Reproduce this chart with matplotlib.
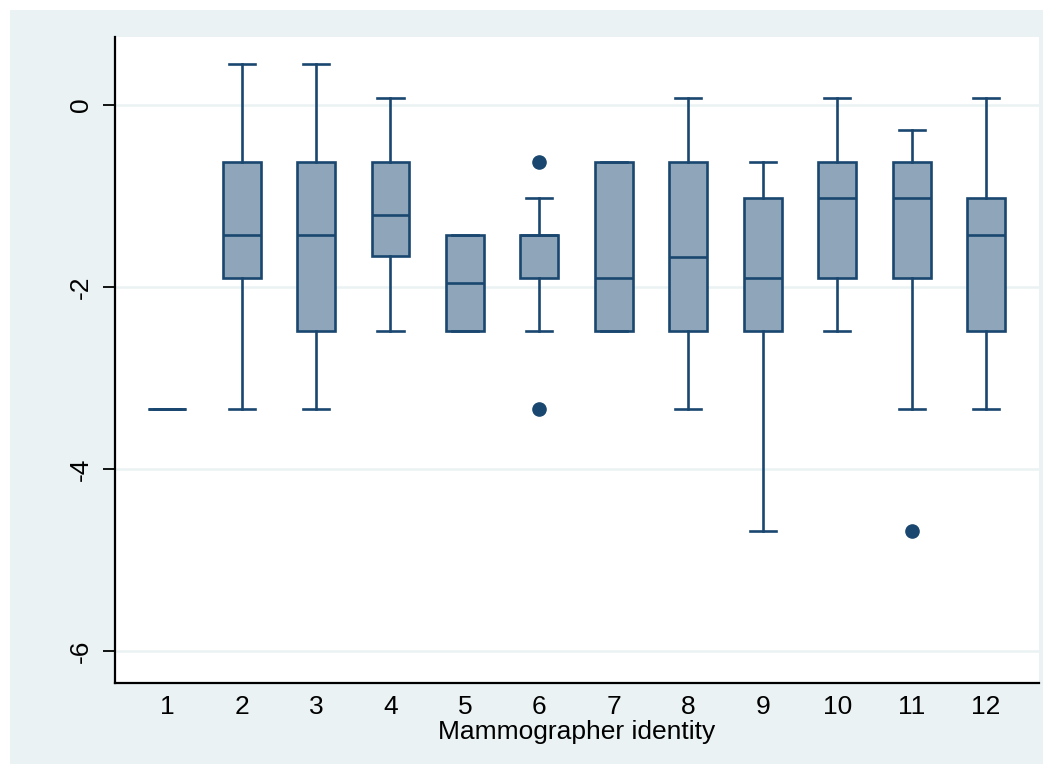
import matplotlib
matplotlib.use("Agg")
import matplotlib.pyplot as plt
from matplotlib.patches import Rectangle

plt.rcParams['font.family'] = ['Liberation Sans', 'DejaVu Sans']

groups = [str(i) for i in range(1, 13)]
whislo = [-3.34, -3.34, -3.34, -2.48, -2.48, -2.48, -2.48, -3.34, -4.68, -2.48, -3.34, -3.34]
q1 = [-3.34, -1.90, -2.48, -1.66, -2.48, -1.90, -2.48, -2.48, -2.48, -1.90, -1.90, -2.48]
med = [-3.34, -1.43, -1.43, -1.21, -1.96, -1.43, -1.90, -1.67, -1.90, -1.02, -1.02, -1.43]
q3 = [-3.34, -0.63, -0.63, -0.63, -1.43, -1.43, -0.63, -0.63, -1.02, -0.63, -0.63, -1.02]
whishi = [-3.34, 0.45, 0.45, 0.08, -1.43, -1.02, -0.63, 0.08, -0.63, 0.08, -0.27, 0.08]
fliers = [[], [], [], [], [], [-0.63, -3.34], [], [], [], [], [-4.68], []]
yticks = [0, -2, -4, -6]
xlabel = "Mammographer identity"

navy = '#1A476F'
fill = '#8FA5BA'
bg = '#EAF2F3'

fig = plt.figure(figsize=(10.53, 7.74), dpi=100)
fig.patch.set_facecolor('white')
fig.patches.append(Rectangle((10 / 1053, 10 / 774), 1033 / 1053, 754 / 774,
                             transform=fig.transFigure, facecolor=bg,
                             edgecolor='none', zorder=-10))

ax = fig.add_axes([115 / 1053, (774 - 683) / 774, (1039 - 115) / 1053, (683 - 37) / 774])
ax.set_facecolor('white')

stats = []
for i in range(len(groups)):
    stats.append(dict(label=groups[i], whislo=whislo[i], q1=q1[i], med=med[i],
                      q3=q3[i], whishi=whishi[i], fliers=fliers[i]))

pos = list(range(1, len(groups) + 1))
ax.bxp(stats, positions=pos, widths=0.51, capwidths=0.35, patch_artist=True,
       showfliers=True,
       boxprops=dict(facecolor=fill, edgecolor=navy, linewidth=1.9),
       medianprops=dict(color=navy, linewidth=1.9),
       whiskerprops=dict(color=navy, linewidth=1.9),
       capprops=dict(color=navy, linewidth=1.9),
       flierprops=dict(marker='o', markerfacecolor=navy, markeredgecolor=navy,
                       markersize=9.5, linestyle='none'))

ax.set_xlim(0.30, 12.71)
ax.set_ylim(-6.352, 0.747)
ax.set_xticks(pos)
ax.set_xticklabels(groups, fontsize=19)
ax.set_yticks(yticks)
ax.set_yticklabels([str(v) for v in yticks], fontsize=19, rotation=90, va='center')
ax.tick_params(axis='x', length=0, pad=9)
ax.tick_params(axis='y', length=9, width=1.3, pad=7, color='black')
ax.yaxis.grid(True, color=bg, linewidth=1.8)
ax.set_axisbelow(True)
for s in ['top', 'right']:
    ax.spines[s].set_visible(False)
for s in ['left', 'bottom']:
    ax.spines[s].set_linewidth(1.6)
    ax.spines[s].set_color('black')
ax.set_xlabel(xlabel, fontsize=19, labelpad=0)

fig.savefig('out.png', dpi=100, facecolor=fig.get_facecolor())
